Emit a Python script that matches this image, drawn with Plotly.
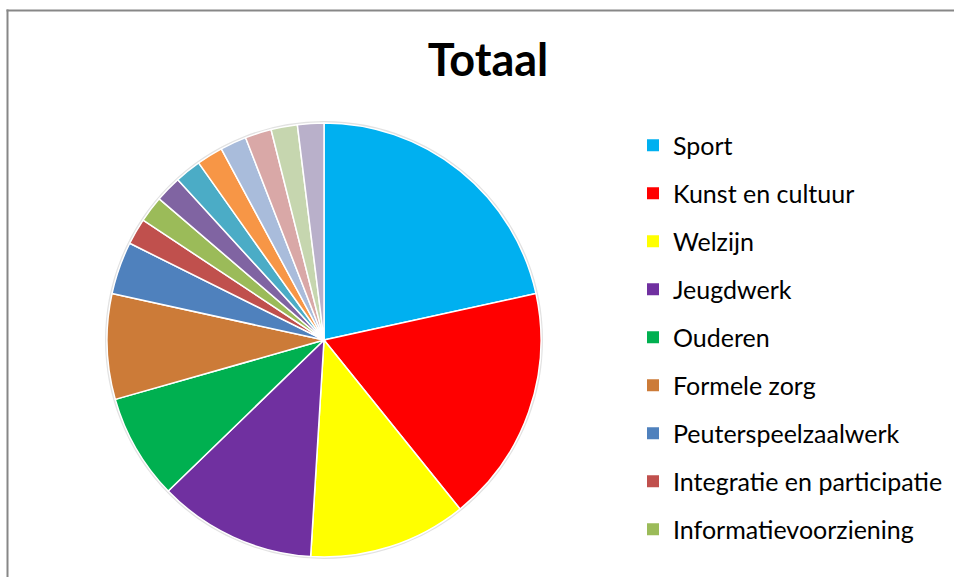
import plotly.graph_objects as go

# aantallen (16 segmenten, met de klok mee vanaf 12 uur)
legend_labels = ["Sport", "Kunst en cultuur", "Welzijn", "Jeugdwerk", "Ouderen",
                 "Formele zorg", "Peuterspeelzaalwerk", "Integratie en participatie",
                 "Informatievoorziening"]
# de overige labels vallen buiten het zichtbare deel van de legenda
extra_labels = ["Overig 1", "Overig 2", "Overig 3", "Overig 4", "Overig 5",
                "Overig 6", "Overig 7"]
values = [11, 9, 6, 6, 4, 4, 2, 1, 1, 1, 1, 1, 1, 1, 1, 1]
colors = ["#00B0F0", "#FF0000", "#FFFF00", "#7030A0", "#00B050", "#CC7B38",
          "#4F81BD", "#C0504D", "#9BBB59", "#8064A2", "#4BACC6", "#F79646",
          "#A9BCDB", "#D9A8A7", "#C6D6AF", "#B9B0CA"]

W, H = 954, 577
cx, cy, r = 324, 340, 217

fig = go.Figure()
fig.add_trace(
    go.Pie(
        labels=legend_labels + extra_labels,
        values=values,
        sort=False,
        direction="clockwise",
        rotation=0,
        textinfo="none",
        marker=dict(colors=colors, line=dict(color="white", width=1.5)),
        domain=dict(x=[(cx - r) / W, (cx + r) / W], y=[1 - (cy + r) / H, 1 - (cy - r) / H]),
        showlegend=False,
    )
)

# legenda-items (alleen het zichtbare deel)
for lab, col in zip(legend_labels, colors):
    fig.add_trace(
        go.Scatter(
            x=[None], y=[None], mode="markers", name=lab, legendgroup=lab,
            marker=dict(symbol="square", size=12, color=col),
        )
    )

border = dict(type="line", xref="paper", yref="paper", line=dict(color="#878787", width=2))

fig.update_layout(
    width=W, height=H,
    margin=dict(l=0, r=0, t=0, b=0, autoexpand=False),
    paper_bgcolor="white", plot_bgcolor="white",
    xaxis=dict(visible=False), yaxis=dict(visible=False),
    title=dict(text="Totaal", x=488 / W, xanchor="center", y=1 - 60 / H, yanchor="middle",
               font=dict(family="Lato", size=45, color="black", weight="bold")),
    legend=dict(x=633 / W, xanchor="left", y=1 - 122.5 / H, yanchor="top",
                traceorder="grouped", tracegroupgap=12.5, maxheight=800,
                font=dict(family="Lato", size=25, color="black"),
                bgcolor="rgba(0,0,0,0)"),
    shapes=[
        dict(type="circle", xref="paper", yref="paper", layer="below",
             x0=(cx - r - 1) / W, x1=(cx + r + 1) / W,
             y0=1 - (cy + r + 1) / H, y1=1 - (cy - r - 1) / H,
             line=dict(color="#E2E2E2", width=2)),
        dict(border, x0=7.5 / W, x1=7.5 / W, y0=-0.01, y1=1 - 9.5 / H),
        dict(border, x0=6.5 / W, x1=1.01, y0=1 - 10.5 / H, y1=1 - 10.5 / H),
    ],
)

fig.write_html("out.html", config={"displayModeBar": False},
               post_script="document.body.style.margin='0';"
                           "document.body.style.overflow='hidden';")
